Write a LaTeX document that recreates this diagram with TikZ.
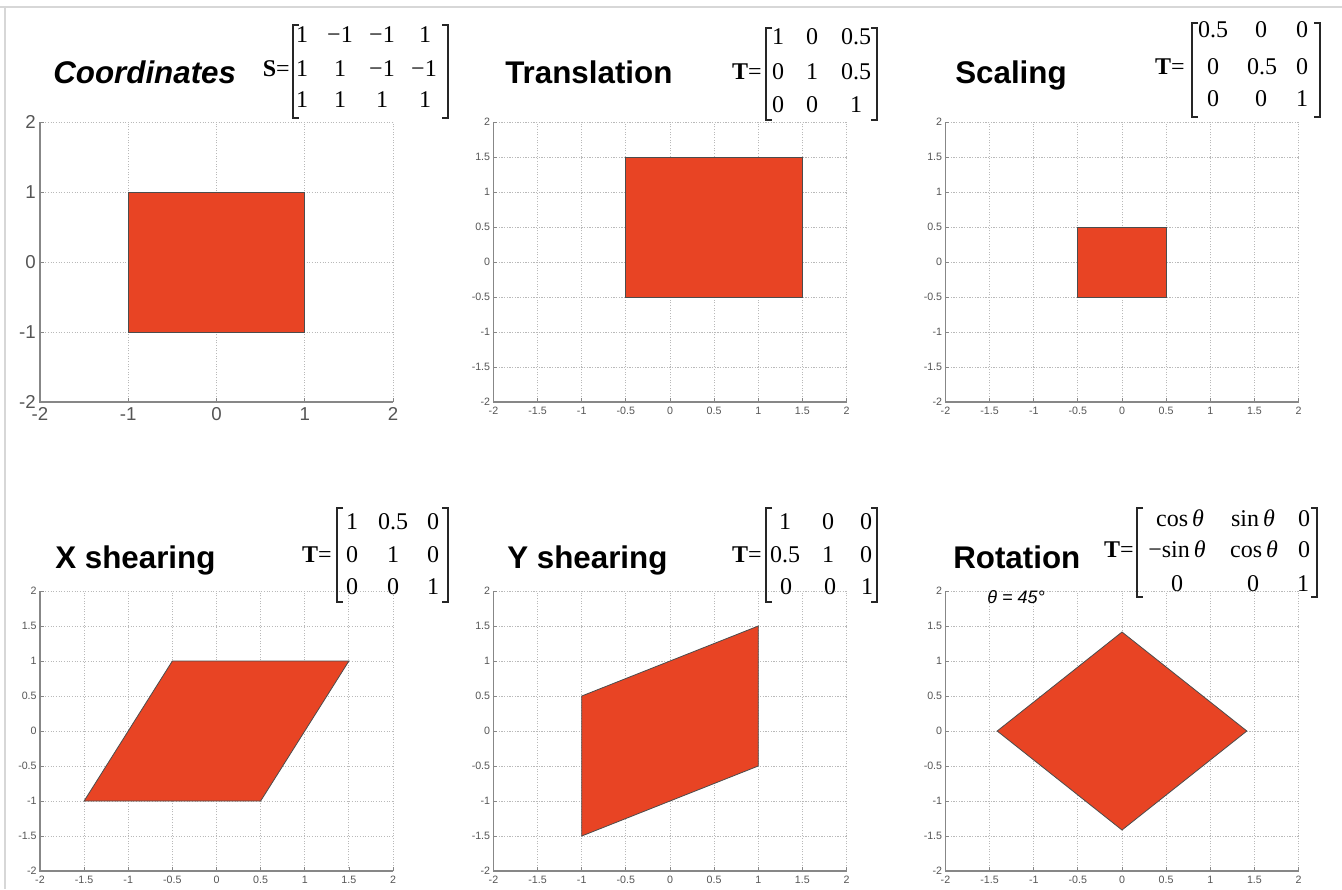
\documentclass[tikz,border=0pt]{standalone}
\usepackage{fontspec}
\setmainfont{Liberation Serif}
\setsansfont{Liberation Sans}
\newfontfamily\arial{Liberation Sans}
\newfontfamily\tnr{Liberation Serif}
\definecolor{shapefill}{RGB}{232,68,36}
\definecolor{axisgray}{RGB}{135,135,135}
\definecolor{gridgray}{RGB}{185,185,185}
\definecolor{labgray}{RGB}{85,85,85}
\definecolor{framegray}{RGB}{215,215,215}
\tikzset{
  title/.style={font=\arial\bfseries\fontsize{23.5}{27}\selectfont, anchor=base west, inner sep=0},
  ent/.style={font=\tnr\fontsize{18}{21}\selectfont, inner sep=0, text height=0.68em, text depth=0pt, anchor=center},
  teq/.style={ent, anchor=east},
  brk/.style={line width=0.9pt, black!85},
  griddot/.style={gridgray, line width=0.7pt, dash pattern=on 0.8pt off 1.2pt},
  axisline/.style={axisgray, line width=1.4pt},
  ticklab/.style={font=\arial\fontsize{8}{9}\selectfont, text=labgray, inner sep=0},
  bigticklab/.style={font=\arial\fontsize{14}{16}\selectfont, text=labgray, inner sep=0},
  shapepoly/.style={fill=shapefill, draw=black!70, line width=0.6pt},
}
% small panel: #1 cx, #2 cy (px), #3 name prefix, #4 polygon
\newcommand\smallpanel[4]{%
  \begin{scope}[shift={(#1,#2)}, x=66.2pt, y=52.5pt]
    \foreach \v in {-1.5,-1,-0.5,0,0.5,1,1.5,2} {
      \draw[griddot] (\v,-2) -- (\v,2);
      \draw[griddot] (-2,\v) -- (2,\v);
    }
    \draw[shapepoly] #4 -- cycle;
    \draw[axisline] (-2,2) -- (-2,-2) -- (2,-2);
    \foreach \v/\l [count=\i] in {-2/-2,-1.5/-1.5,-1/-1,-0.5/-0.5,0/0,0.5/0.5,1/1,1.5/1.5,2/2} {
      \draw[axisgray, line width=0.6pt] (-2,\v) -- ++(3pt,0);
      \draw[axisgray, line width=0.6pt] (\v,-2) -- ++(0,3pt);
      \node[ticklab, anchor=east] (#3-y\i) at ([xshift=-2.3pt]-2,\v) {\l};
      \node[ticklab, anchor=north] (#3-x\i) at ([yshift=-3.5pt]\v,-2) {\l};
    }
  \end{scope}}
% brackets: #1 left x, #2 right x, #3 top y, #4 bottom y
\newcommand\mbrackets[4]{%
  \draw[brk] (#1+6,#3) -- (#1,#3) -- (#1,#4) -- (#1+6,#4);
  \draw[brk] (#2-6,#3) -- (#2,#3) -- (#2,#4) -- (#2-6,#4);}
\begin{document}
\begin{tikzpicture}[x=0.75pt,y=-0.75pt]
\useasboundingbox (0,0) rectangle (1342,889);
\fill[white] (0,0) rectangle (1342,889);
\draw[framegray, line width=0.8pt] (0,7) -- (1342,7);
\draw[framegray, line width=0.8pt] (5,7) -- (5,889);

% ---------- Panel 1: Coordinates ----------
\begin{scope}[shift={(216.5,262)}, x=66.2pt, y=52.5pt]
  \foreach \v in {-1,0,1,2} {
    \draw[griddot] (\v,-2) -- (\v,2);
    \draw[griddot] (-2,\v) -- (2,\v);
  }
  \draw[shapepoly] (-1,-1) -- (1,-1) -- (1,1) -- (-1,1) -- cycle;
  \draw[axisline] (-2,2) -- (-2,-2) -- (2,-2);
  \foreach \v [count=\i] in {-2,-1,0,1,2} {
    \draw[axisgray, line width=0.6pt] (-2,\v) -- ++(3pt,0);
    \draw[axisgray, line width=0.6pt] (\v,-2) -- ++(0,3pt);
    \node[bigticklab, anchor=east] (p1-y\i) at ([xshift=-3pt]-2,\v) {\v};
    \node[bigticklab, anchor=north] (p1-x\i) at ([yshift=-4pt]\v,-2) {\v};
  }
\end{scope}

% ---------- Other panels ----------
\smallpanel{670}{262}{p2}{(-0.5,-0.5) -- (1.5,-0.5) -- (1.5,1.5) -- (-0.5,1.5)}
\smallpanel{1122}{262}{p3}{(-0.5,-0.5) -- (0.5,-0.5) -- (0.5,0.5) -- (-0.5,0.5)}
\smallpanel{216.5}{731}{p4}{(-1.5,-1) -- (0.5,-1) -- (1.5,1) -- (-0.5,1)}
\smallpanel{670}{731}{p5}{(-1,-1.5) -- (1,-0.5) -- (1,1.5) -- (-1,0.5)}
\smallpanel{1122}{731}{p6}{(-1.4142,0) -- (0,-1.4142) -- (1.4142,0) -- (0,1.4142)}

% ---------- Titles ----------
\node[title] (t1) at (53,83) {\itshape Coordinates};
\node[title] (t2) at (505,83) {Translation};
\node[title] (t3) at (955,83) {Scaling};
\node[title] (t4) at (55,568) {X shearing};
\node[title] (t5) at (507,568) {Y shearing};
\node[title] (t6) at (953,568) {Rotation};
\node[font=\arial\itshape\fontsize{13.5}{15}\selectfont, anchor=base west, inner sep=0] (theta) at (987,603) {θ = 45°};

% ---------- Matrix S ----------
\node[teq] (s-eq) at (290,72) {\textbf{S}=};
\mbrackets{293}{448}{25}{118}
\node[ent] (s11) at (302,38) {1};  \node[ent] (s12) at (340,38) {−1}; \node[ent] (s13) at (382,38) {−1}; \node[ent] (s14) at (425,38) {1};
\node[ent] (s21) at (302,72) {1};  \node[ent] (s22) at (340,72) {1};  \node[ent] (s23) at (382,72) {−1}; \node[ent] (s24) at (424,72) {−1};
\node[ent] (s31) at (302,103) {1}; \node[ent] (s32) at (340,103) {1}; \node[ent] (s33) at (382,103) {1}; \node[ent] (s34) at (425,103) {1};

% ---------- Matrix Translation ----------
\node[teq] (a-eq) at (762,75) {\textbf{T}=};
\mbrackets{766}{877}{28}{120}
\node[ent] (a11) at (778,40) {1};  \node[ent] (a12) at (812,40) {0};  \node[ent] (a13) at (856,40) {0.5};
\node[ent] (a21) at (778,75) {0};  \node[ent] (a22) at (812,75) {1};  \node[ent] (a23) at (856,75) {0.5};
\node[ent] (a31) at (778,108) {0}; \node[ent] (a32) at (812,108) {0}; \node[ent] (a33) at (856,108) {1};

% ---------- Matrix Scaling ----------
\node[teq] (b-eq) at (1185,70) {\textbf{T}=};
\mbrackets{1192}{1320}{23}{117}
\node[ent] (b11) at (1213,33) {0.5}; \node[ent] (b12) at (1261,33) {0};   \node[ent] (b13) at (1302,33) {0};
\node[ent] (b21) at (1213,70) {0};   \node[ent] (b22) at (1262,70) {0.5}; \node[ent] (b23) at (1302,70) {0};
\node[ent] (b31) at (1213,102) {0};  \node[ent] (b32) at (1261,102) {0};  \node[ent] (b33) at (1302,102) {1};

% ---------- Matrix X shearing ----------
\node[teq] (c-eq) at (332,558) {\textbf{T}=};
\mbrackets{337}{448}{508}{602}
\node[ent] (c11) at (352,525) {1}; \node[ent] (c12) at (393,525) {0.5}; \node[ent] (c13) at (433,525) {0};
\node[ent] (c21) at (352,558) {0}; \node[ent] (c22) at (393,558) {1};   \node[ent] (c23) at (433,558) {0};
\node[ent] (c31) at (352,590) {0}; \node[ent] (c32) at (393,590) {0};   \node[ent] (c33) at (433,590) {1};

% ---------- Matrix Y shearing ----------
\node[teq] (d-eq) at (762,558) {\textbf{T}=};
\mbrackets{766}{877}{508}{602}
\node[ent] (d11) at (785,525) {1};   \node[ent] (d12) at (828,525) {0}; \node[ent] (d13) at (866,525) {0};
\node[ent] (d21) at (785,558) {0.5}; \node[ent] (d22) at (828,558) {1}; \node[ent] (d23) at (866,558) {0};
\node[ent] (d31) at (786,590) {0};   \node[ent] (d32) at (830,590) {0}; \node[ent] (d33) at (867,590) {1};

% ---------- Matrix Rotation ----------
\node[teq] (e-eq) at (1134,553) {\textbf{T}=};
\mbrackets{1137}{1317}{508}{597}
\node[ent] (e11) at (1180,522) {cos\,\textit{θ}};  \node[ent] (e12) at (1253,522) {sin\,\textit{θ}}; \node[ent] (e13) at (1304,522) {0};
\node[ent] (e21) at (1177,553) {−sin\,\textit{θ}}; \node[ent] (e22) at (1254,553) {cos\,\textit{θ}}; \node[ent] (e23) at (1304,553) {0};
\node[ent] (e31) at (1177,587) {0};                \node[ent] (e32) at (1253,587) {0};                \node[ent] (e33) at (1303,587) {1};
\end{tikzpicture}
\end{document}
